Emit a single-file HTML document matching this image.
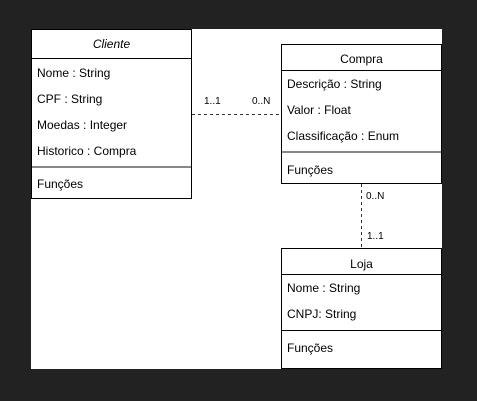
<!DOCTYPE html>
<html><head><style>
body{margin:0;width:477px;height:401px;background:#222;position:relative;overflow:hidden;font-family:"Liberation Sans",Arial,sans-serif;font-size:12px;color:#000}
.paper{position:absolute;left:31px;top:29px;width:411px;height:340px;background:#fff}
.box{position:absolute;border:1px solid #000;background:#fff;box-sizing:border-box}
.t{position:absolute;white-space:nowrap}
.h{position:absolute;left:0;right:0;border-top:1px solid #000}
.g{position:absolute;left:0;right:0;border-top:2px solid #888}
.lbl{position:absolute;font-size:10px;white-space:nowrap}
</style></head><body>
<div class="paper"></div>
<div class="box" style="left:31px;top:29px;width:161px;height:170px">
 <div class="t" style="left:0;right:0;text-align:center;top:7px;font-style:italic">Cliente</div>
 <div class="h" style="top:28px"></div>
 <div class="t" style="left:5px;top:36px">Nome : String</div>
 <div class="t" style="left:5px;top:62px">CPF : String</div>
 <div class="t" style="left:5px;top:88px">Moedas : Integer</div>
 <div class="t" style="left:5px;top:114px">Historico : Compra</div>
 <div class="g" style="top:136px"></div>
 <div class="t" style="left:5px;top:147px">Funções</div>
</div>
<div class="box" style="left:281px;top:44px;width:161px;height:140px">
 <div class="t" style="left:0;right:0;text-align:center;top:7px">Compra</div>
 <div class="h" style="top:25px"></div>
 <div class="t" style="left:5px;top:32px">Descrição : String</div>
 <div class="t" style="left:5px;top:58px">Valor : Float</div>
 <div class="t" style="left:5px;top:84px">Classificação : Enum</div>
 <div class="g" style="top:106px"></div>
 <div class="t" style="left:5px;top:118px">Funções</div>
</div>
<div class="box" style="left:281px;top:248px;width:161px;height:121px">
 <div class="t" style="left:0;right:0;text-align:center;top:8px">Loja</div>
 <div class="h" style="top:25px"></div>
 <div class="t" style="left:5px;top:32px">Nome : String</div>
 <div class="t" style="left:5px;top:58px">CNPJ: String</div>
 <div class="h" style="top:81px"></div>
 <div class="t" style="left:5px;top:92px">Funções</div>
</div>
<svg style="position:absolute;left:0;top:0" width="477" height="401">
 <line x1="192" y1="114.5" x2="281" y2="114.5" stroke="#333" stroke-dasharray="3,3"/>
 <line x1="361.5" y1="184" x2="361.5" y2="248" stroke="#333" stroke-dasharray="3,3"/>
</svg>
<div class="lbl" style="left:204px;top:96px">1..1</div>
<div class="lbl" style="left:252px;top:96px">0..N</div>
<div class="lbl" style="left:366px;top:191px">0..N</div>
<div class="lbl" style="left:367px;top:231px">1..1</div>
</body></html>
